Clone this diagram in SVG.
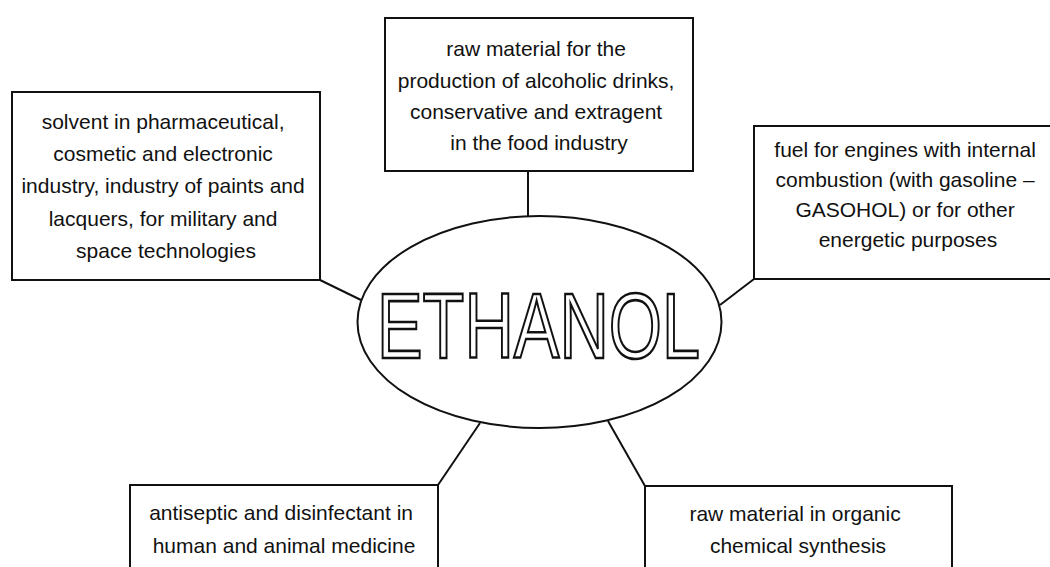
<svg xmlns="http://www.w3.org/2000/svg" width="1050" height="567" viewBox="0 0 1050 567">
  <style>
    .box { fill: #fff; stroke: #111; stroke-width: 2; }
    .link { stroke: #111; stroke-width: 2; fill: none; }
    .lbl { font-family: "Liberation Sans", Arial, sans-serif; font-size: 21px; fill: #111; text-anchor: middle; }
    .title { font-family: "Liberation Sans", Arial, sans-serif; font-size: 93px; fill: #fff; stroke: #111; stroke-width: 2.6; stroke-linejoin: miter; }
  </style>
  <rect width="1050" height="567" fill="#fff"/>

  <!-- connectors between the hub and the surrounding boxes -->
  <g id="connectors">
    <line class="link" x1="320" y1="280" x2="361" y2="300"/>
    <line class="link" x1="528" y1="171" x2="528" y2="216"/>
    <line class="link" x1="754" y1="279" x2="720" y2="305"/>
    <line class="link" x1="438" y1="485" x2="480" y2="423"/>
    <line class="link" x1="645" y1="486" x2="608" y2="421"/>
  </g>

  <!-- central hub -->
  <g id="hub">
    <ellipse cx="539.5" cy="322" rx="182" ry="106" fill="#fff" stroke="#111" stroke-width="2"/>
    <text class="title" x="377" y="358" textLength="323" lengthAdjust="spacingAndGlyphs">ETHANOL</text>
  </g>

  <g id="solvent">
    <rect class="box" x="12" y="92" width="308" height="188"/>
    <text class="lbl">
      <tspan x="166" y="129">solvent in pharmaceutical,</tspan>
      <tspan x="166" y="161">cosmetic and electronic</tspan>
      <tspan x="166" y="193">industry, industry of paints and</tspan>
      <tspan x="166" y="226">lacquers, for military and</tspan>
      <tspan x="166" y="258">space technologies</tspan>
    </text>
  </g>

  <g id="food">
    <rect class="box" x="385" y="18" width="308" height="153"/>
    <text class="lbl">
      <tspan x="539" y="56">raw material for the</tspan>
      <tspan x="539" y="88">production of alcoholic drinks,</tspan>
      <tspan x="539" y="119">conservative and extragent</tspan>
      <tspan x="539" y="150">in the food industry</tspan>
    </text>
  </g>

  <g id="fuel">
    <rect class="box" x="754" y="126" width="310" height="153"/>
    <text class="lbl">
      <tspan x="908" y="157">fuel for engines with internal</tspan>
      <tspan x="908" y="187">combustion (with gasoline –</tspan>
      <tspan x="908" y="217">GASOHOL) or for other</tspan>
      <tspan x="908" y="247">energetic purposes</tspan>
    </text>
  </g>

  <g id="antiseptic">
    <rect class="box" x="130" y="485" width="308" height="100"/>
    <text class="lbl">
      <tspan x="284" y="520">antiseptic and disinfectant in</tspan>
      <tspan x="284" y="553">human and animal medicine</tspan>
    </text>
  </g>

  <g id="synthesis">
    <rect class="box" x="645" y="486" width="307" height="100"/>
    <text class="lbl">
      <tspan x="798" y="521">raw material in organic</tspan>
      <tspan x="798" y="553">chemical synthesis</tspan>
    </text>
  </g>
</svg>
